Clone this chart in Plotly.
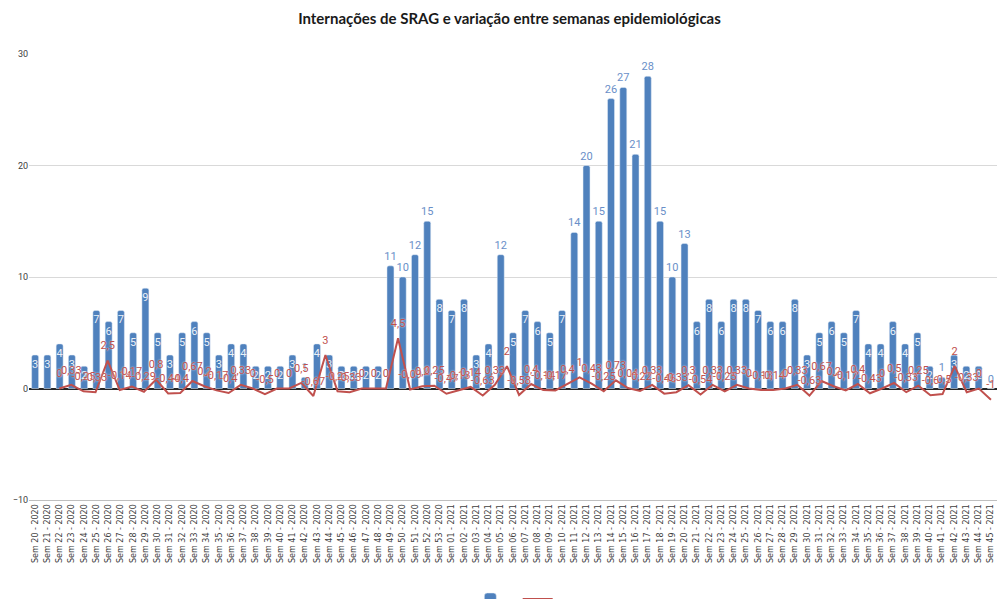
import plotly.graph_objects as go

# Semanas epidemiológicas (eixo de categorias)
semanas_2020 = [f"Sem {w:02d} - 2020" for w in range(20, 54)]
semanas_2021 = [f"Sem {w:02d} - 2021" for w in range(1, 46)]
semanas = semanas_2020 + semanas_2021

# Internações de SRAG por semana
internacoes = [3, 3, 4, 3, 2, 7, 6, 7, 5, 9,
               5, 3, 5, 6, 5, 3, 4, 4, 2, 2,
               2, 3, 1, 4, 3, 2, 2, 2, 2, 11,
               10, 12, 15, 8, 7, 8, 3, 4, 12, 5,
               7, 6, 5, 7, 14, 20, 15, 26, 27, 21,
               28, 15, 10, 13, 6, 8, 6, 8, 8, 7,
               6, 6, 8, 3, 5, 6, 5, 7, 4, 4,
               6, 4, 5, 2, 1, 3, 2, 2, 0]

# Variação entre semanas (Sem 21-2020 .. Sem 45-2021)
variacao_2020 = [0, 0.33, -0.25, -0.33, 2.5, -0.14, 0.17, -0.29, 0.8, -0.44,
                 -0.4, 0.67, 0.2, -0.17, -0.4, 0.33, 0, -0.5, 0, 0,
                 0.5, -0.67, 3, -0.25, -0.33, 0, 0, 0, 4.5, -0.09,
                 0.2, 0.25, -0.47]
variacao_2021 = [-0.13, 0.14, -0.63, 0.33, 2, -0.58, 0.4, -0.14, -0.17, 0.4,
                 1, 0.43, -0.25, 0.73, 0.04, -0.22, 0.33, -0.46, -0.33, 0.3,
                 -0.54, 0.33, -0.25, 0.33, 0, -0.13, -0.14, 0, 0.33, -0.63,
                 0.67, 0.2, -0.17, 0.4, -0.43, 0, 0.5, -0.33, 0.25, -0.6,
                 -0.5, 2, -0.33, 0, -1]
variacao = variacao_2020 + variacao_2021

AZUL = "#4f81bd"
VERMELHO = "#c0504d"


def fmt(v):
    s = f"{v:.2f}".rstrip("0").rstrip(".")
    if s == "-0":
        s = "0"
    return s.replace(".", ",")


# rótulos: < 10 dentro da barra, >= 10 (ou muito baixos) fora
pos_barras = ["inside" if 2 <= v < 10 else "outside" for v in internacoes]

fig = go.Figure()
fig.add_trace(go.Bar(
    x=semanas, y=internacoes, name=" ",
    marker=dict(color=AZUL, cornerradius=2),
    text=[str(v) for v in internacoes],
    textposition=pos_barras,
    insidetextanchor="end",
    constraintext="none",
    insidetextfont=dict(family="Roboto", size=11, color="rgba(255,255,255,0.9)"),
    outsidetextfont=dict(family="Roboto", size=11, color="#6a8fc8"),
    cliponaxis=False,
))

# a série de variação fica num eixo de categorias secundário (80 posições)
x_linha = list(range(2, 2 + len(variacao)))
fig.add_trace(go.Scatter(
    x=x_linha, y=variacao, name=" ", xaxis="x2",
    mode="lines",
    line=dict(color=VERMELHO, width=2),
))
# rótulos da variação (sem entrada na legenda)
fig.add_trace(go.Scatter(
    x=x_linha, y=variacao, xaxis="x2", showlegend=False,
    mode="markers+text",
    marker=dict(size=12, opacity=0, color=VERMELHO),
    text=[fmt(v) for v in variacao],
    textposition="top center",
    textfont=dict(family="Roboto", size=11, color=VERMELHO,
                  shadow="0px 0px 2px white"),
    cliponaxis=False, hoverinfo="skip",
))

fig.update_layout(
    width=999, height=599,
    margin=dict(l=29, r=2, t=54, b=99),
    paper_bgcolor="white", plot_bgcolor="white",
    title=dict(text="<b>Internações de SRAG e variação entre semanas epidemiológicas</b>",
               x=0.51, xanchor="center", y=0.968, yanchor="middle",
               font=dict(family="Lato", size=15, color="#1a1a1a")),
    bargap=0.43,
    showlegend=True,
    legend=dict(orientation="h", x=0.505, xanchor="center",
                yref="container", y=0.0, yanchor="middle",
                font=dict(size=9), itemwidth=30, tracegroupgap=0),
    xaxis=dict(
        type="category", tickangle=-90,
        tickfont=dict(family="DejaVu Sans", size=8, color="#404040"),
        showgrid=False, showline=True, linecolor="#bfbfbf",
        ticks="", fixedrange=True,
    ),
    xaxis2=dict(overlaying="x", range=[-0.5, 79.5], visible=False, fixedrange=True),
    yaxis=dict(
        range=[-10, 30], tickvals=[-10, 0, 10, 20, 30],
        tickfont=dict(family="Roboto", size=9, color="#404040"),
        showgrid=True, gridcolor="#d9d9d9",
        zeroline=True, zerolinecolor="#262626", zerolinewidth=1.5,
        showline=False, fixedrange=True,
    ),
)

fig.write_html("out.html", config={"displayModeBar": False},
               post_script="document.body.style.margin='0';")
